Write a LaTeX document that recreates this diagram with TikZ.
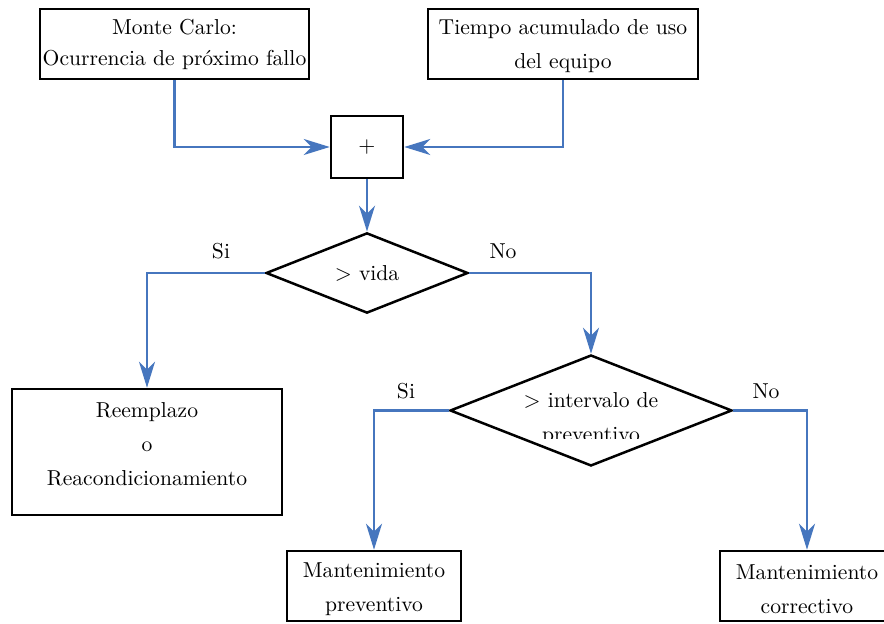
\documentclass[tikz,border=0pt]{standalone}
\usetikzlibrary{arrows.meta,shapes.geometric}
\definecolor{flowblue}{RGB}{70,118,190}
\begin{document}
\begin{tikzpicture}[x=0.5pt,y=-0.5pt,
  box/.style={draw=black,line width=1.25pt,rectangle,inner sep=0pt},
  dia/.style={draw=black,line width=1.25pt,diamond,inner sep=0pt},
  txt/.style={align=center,inner sep=0pt,font=\fontsize{10.8}{17}\selectfont},
  lbl/.style={inner sep=0pt,font=\fontsize{10.8}{13}\selectfont},
  flow/.style={draw=flowblue,line width=1.15pt,-{Stealth[length=13pt,width=8pt,inset=4pt]}}]
\useasboundingbox (0,0) rectangle (884,624);

% boxes and decisions
\node[box,minimum width=134.5pt,minimum height=35pt] (mc) at (174.5,44) {};
\node[box,minimum width=135pt,minimum height=35pt] (tu) at (563,44) {};
\node[box,minimum width=36pt,minimum height=31pt,font=\fontsize{10.8}{13}\selectfont] (sum) at (367,147) {$+$};
\node[dia,minimum width=101pt,minimum height=38pt,font=\fontsize{10.8}{13}\selectfont] (vida) at (367,273) {$>$ vida};
\node[dia,minimum width=141pt,minimum height=55.5pt] (intv) at (591,410.5) {};
\node[box,minimum width=135pt,minimum height=63pt] (reem) at (147,452) {};
\node[box,minimum width=87pt,minimum height=35pt] (prev) at (374,586) {};
\node[box,minimum width=87pt,minimum height=35pt] (corr) at (807,586) {};

% texts
\node[txt,font=\fontsize{10.8}{15.5}\selectfont] (mcT) at (174.5,44) {Monte Carlo:\\Ocurrencia de próximo fallo};
\node[txt] (tuT) at (563,46.5) {Tiempo acumulado de uso\\del equipo};
\node[txt] (reemT) at (147,444) {Reemplazo\\o\\Reacondicionamiento};
\node[txt] (prevT) at (374,589.5) {Mantenimiento\\preventivo};
\node[txt] (corrT) at (807,589.5) {Mantenimiento\\correctivo};
\begin{scope}
  \clip (500,380) rectangle (690,439);
  \node[txt] (intvT) at (591,419.5) {$>$ intervalo de\\preventivo};
\end{scope}

% connectors
\draw[flow] (mc.south) |- (sum.west);
\draw[flow] (tu.south) |- (sum.east);
\draw[flow] (sum.south) -- (vida.north);
\draw[flow] (vida.west) -| (reem.north);
\draw[flow] (vida.east) -| (intv.north);
\draw[flow] (intv.west) -| (prev.north);
\draw[flow] (intv.east) -| (corr.north);

% branch labels
\node[lbl] (si1) at (221,251) {Si};
\node[lbl] (no1) at (503,251) {No};
\node[lbl] (si2) at (406,391) {Si};
\node[lbl] (no2) at (766,391) {No};
\end{tikzpicture}
\end{document}
